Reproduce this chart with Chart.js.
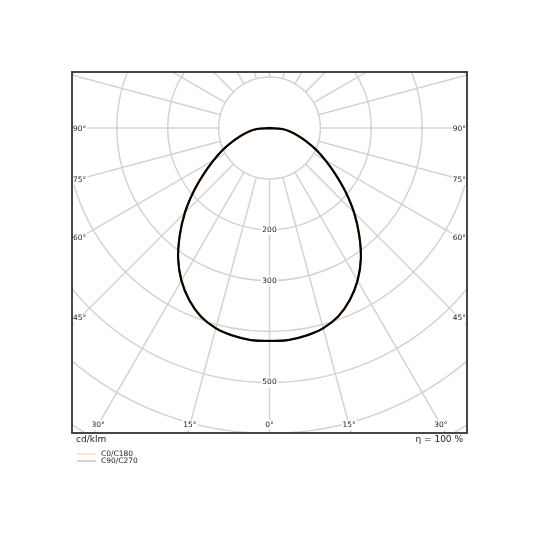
<!DOCTYPE html>
<html>
<head>
<meta charset="utf-8">
<script src="https://cdn.jsdelivr.net/npm/chart.js@4.4.1/dist/chart.umd.min.js"></script>
<style>
  html, body { margin: 0; padding: 0; background: #fff; }
  #wrap { width: 540px; height: 540px; position: relative; }
</style>
</head>
<body>
<div id="wrap"><canvas id="ldc"></canvas></div>
<script>
// gamma angles (deg from nadir) and luminous intensity in cd/klm
var gammaAngles = [0, 5, 10, 15, 20, 25, 30, 35, 40, 45, 50, 55, 60, 65, 70, 75, 80, 85, 90];
var c0c180 = [418, 418, 414, 407, 394, 373, 346, 313, 274, 235, 195, 158, 127, 101, 77, 58, 42, 26, 0];
var c90c270 = [418, 418, 414, 407, 394, 373, 346, 313, 274, 235, 195, 158, 127, 101, 77, 58, 42, 26, 0];

var ringValues = [100, 200, 300, 400, 500, 600, 700, 800];
var ringLabels = ["", "200", "300", "", "500", "", "", ""];
var spokeStep = 15;
var bottomAngleLabels = [0, 15, 30];
var sideAngleLabels = [45, 60, 75, 90];
var seriesNames = ["C0/C180", "C90/C270"];
var legendColors = ["#f9cf9b", "#a3a7ad"];
var unitText = "cd/klm";
var etaText = "\u03b7 = 100 %";

const DEG = Math.PI / 180;
const FONT = "'DejaVu Sans', sans-serif";

// turn one C-plane pair into a closed x/y loop: left half (C180/C270) then right half
function toPoints(values) {
    var pts = [];
    for (var i = gammaAngles.length - 1; i >= 0; i--) {
        var g = gammaAngles[i] * DEG;
        pts.push({ x: -values[i] * Math.sin(g), y: -values[i] * Math.cos(g) });
    }
    for (var j = 1; j < gammaAngles.length; j++) {
        var g2 = gammaAngles[j] * DEG;
        pts.push({ x: values[j] * Math.sin(g2), y: -values[j] * Math.cos(g2) });
    }
    return pts;
}

function labelBox(ctx, text, x, y, align) {
    var w = ctx.measureText(text).width;
    var left = align === "left" ? x : (align === "right" ? x - w : x - w / 2);
    ctx.fillStyle = "#fff";
    ctx.fillRect(left - 1, y - 5, w + 2, 10);
    ctx.fillStyle = "#222";
    ctx.textAlign = align;
    ctx.fillText(text, x, y);
}

var polarGrid = {
    id: "polarGrid",
    beforeDatasetsDraw: function (chart) {
        var ctx = chart.ctx;
        var area = chart.chartArea;
        var xs = chart.scales.x, ys = chart.scales.y;
        var cx = xs.getPixelForValue(0), cy = ys.getPixelForValue(0);
        var k = xs.getPixelForValue(100) - cx;   // px per 100 cd/klm

        ctx.save();
        ctx.beginPath();
        ctx.rect(area.left, area.top, area.right - area.left, area.bottom - area.top);
        ctx.clip();
        ctx.strokeStyle = "#d3d3d3";
        ctx.lineWidth = 1.5;

        ringValues.forEach(function (v) {
            ctx.beginPath();
            ctx.arc(cx, cy, v / 100 * k, 0, 2 * Math.PI);
            ctx.stroke();
        });
        var r0 = ringValues[0] / 100 * k;
        var r1 = ringValues[ringValues.length - 1] / 100 * k;
        for (var a = 0; a < 360; a += spokeStep) {
            var s = Math.sin(a * DEG), c = Math.cos(a * DEG);
            ctx.beginPath();
            ctx.moveTo(cx + r0 * s, cy + r0 * c);
            ctx.lineTo(cx + r1 * s, cy + r1 * c);
            ctx.stroke();
        }

        ctx.font = "7.5px " + FONT;
        ctx.textBaseline = "middle";
        ringValues.forEach(function (v, i) {
            if (ringLabels[i]) labelBox(ctx, ringLabels[i], cx, cy + v / 100 * k, "center");
        });

        var by = area.bottom - 8;
        bottomAngleLabels.forEach(function (a) {
            var dx = (by - cy) * Math.tan(a * DEG);
            labelBox(ctx, a + "\u00b0", cx - dx, by, "center");
            if (a !== 0) labelBox(ctx, a + "\u00b0", cx + dx, by, "center");
        });
        sideAngleLabels.forEach(function (a) {
            var dy = (cx - area.left - 8) / Math.tan(a * DEG);
            labelBox(ctx, a + "\u00b0", area.left + 1, cy + dy + 1, "left");
            labelBox(ctx, a + "\u00b0", area.right - 1, cy + dy + 1, "right");
        });
        ctx.restore();
    },
    afterDraw: function (chart) {
        var ctx = chart.ctx;
        var area = chart.chartArea;
        ctx.save();
        ctx.strokeStyle = "#333";
        ctx.lineWidth = 1.8;
        ctx.strokeRect(area.left, area.top, area.right - area.left, area.bottom - area.top);

        ctx.fillStyle = "#222";
        ctx.textBaseline = "middle";
        ctx.font = "9px " + FONT;
        ctx.textAlign = "left";
        ctx.fillText(unitText, area.left + 4, area.bottom + 7);
        ctx.textAlign = "right";
        ctx.fillText(etaText, area.right - 4, area.bottom + 7);

        ctx.font = "7.5px " + FONT;
        ctx.textAlign = "left";
        seriesNames.forEach(function (name, i) {
            var y = area.bottom + 21 + i * 7;
            ctx.strokeStyle = legendColors[i];
            ctx.lineWidth = 1;
            ctx.beginPath();
            ctx.moveTo(area.left + 5, y);
            ctx.lineTo(area.left + 24, y);
            ctx.stroke();
            ctx.fillStyle = "#222";
            ctx.fillText(name, area.left + 29, y);
        });
        ctx.restore();
    }
};

window.onload = function () {
    new Chart("ldc", {
        type: "scatter",
        data: {
            datasets: [{
                label: seriesNames[0],
                data: toPoints(c0c180),
                showLine: true,
                borderColor: "#6b3a12",
                borderWidth: 2.3,
                pointRadius: 0,
                tension: 0.4,
                order: 1
            }, {
                label: seriesNames[1],
                data: toPoints(c90c270),
                showLine: true,
                borderColor: "#000",
                borderWidth: 1.8,
                pointRadius: 0,
                tension: 0.4,
                order: 0
            }]
        },
        options: {
            responsive: true,
            maintainAspectRatio: false,
            animation: false,
            layout: { padding: { left: 72, top: 72, right: 73, bottom: 107 } },
            scales: {
                x: { type: "linear", min: -388, max: 388, display: false },
                y: { type: "linear", min: -599, max: 110, display: false }
            },
            plugins: { legend: { display: false }, tooltip: { enabled: false } }
        },
        plugins: [polarGrid]
    });
};
</script>
</body>
</html>
